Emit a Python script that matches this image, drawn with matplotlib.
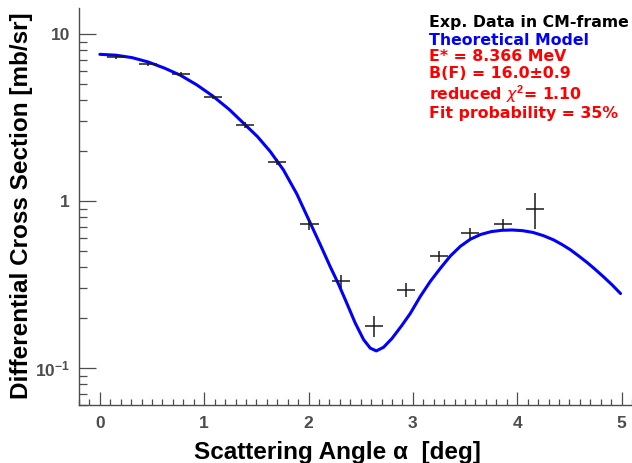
import matplotlib
matplotlib.use("Agg")
import matplotlib.pyplot as plt
from matplotlib.ticker import MultipleLocator, LogLocator, FixedLocator, FixedFormatter, NullFormatter

# ---- data ----
angle = [0.154, 0.464, 0.774, 1.082, 1.392, 1.696, 2.009, 2.313, 2.627, 2.934, 3.247, 3.551, 3.861, 4.168]
angle_err = [0.087] * 14
xsec = [7.24, 6.64, 5.78, 4.19, 2.85, 1.71, 0.728, 0.331, 0.179, 0.294, 0.467, 0.640, 0.725, 0.896]
xsec_err = [0.20, 0.19, 0.17, 0.12, 0.10, 0.07, 0.055, 0.03, 0.025, 0.027, 0.035, 0.05, 0.055, 0.217]

model_angle = [0.0, 0.154, 0.31, 0.464, 0.62, 0.774, 0.93, 1.082, 1.24, 1.392, 1.51, 1.632,
               1.759, 1.888, 2.009, 2.111, 2.207, 2.287, 2.368, 2.447, 2.527, 2.591, 2.649,
               2.719, 2.799, 2.895, 2.975, 3.071, 3.167, 3.263, 3.359, 3.455, 3.551, 3.65,
               3.75, 3.85, 3.95, 4.05, 4.15, 4.25, 4.35, 4.43, 4.51, 4.59, 4.67, 4.75, 4.83,
               4.91, 4.99]
model_xsec = [7.55, 7.46, 7.21, 6.79, 6.24, 5.65, 4.95, 4.25, 3.53, 2.86, 2.43, 1.98,
              1.535, 1.10, 0.755, 0.55, 0.405, 0.318, 0.243, 0.186, 0.148, 0.1315, 0.1265,
              0.133, 0.150, 0.180, 0.212, 0.268, 0.330, 0.395, 0.468, 0.535, 0.590, 0.630,
              0.655, 0.667, 0.670, 0.664, 0.648, 0.620, 0.584, 0.548, 0.510, 0.468, 0.428,
              0.388, 0.350, 0.314, 0.279]

ytick_vals = [0.1, 1, 10]
ytick_labels = [r'$\mathbf{10^{-1}}$', '1', '10']
xtick_vals = [0, 1, 2, 3, 4, 5]

legend_lines = [
    ("Exp. Data in CM-frame", "black"),
    ("Theoretical Model", "blue"),
    ("E* = 8.366 MeV", "red"),
    ("B(F) = 16.0\u00b10.9", "red"),
    (r"reduced $\chi^{\mathbf{2}}$= 1.10", "red"),
    ("Fit probability = 35%", "red"),
]

# ---- figure ----
W, H = 632, 463
plt.rcParams['mathtext.fontset'] = 'custom'
plt.rcParams['mathtext.bf'] = 'Liberation Sans:bold'
plt.rcParams['mathtext.rm'] = 'Liberation Sans:bold'
plt.rcParams['mathtext.it'] = 'DejaVu Sans:italic'

fig = plt.figure(figsize=(W / 100, H / 100), dpi=100)
ax = fig.add_axes([79 / W, (H - 405) / H, 1 - 79 / W, (405 - 8) / H])

gray = '#4d4d4d'
ax.plot(model_angle, model_xsec, color='#0000ff', lw=2.2, solid_capstyle='round',
        solid_joinstyle='round', zorder=3)
ax.errorbar(angle, xsec, xerr=angle_err, yerr=xsec_err, fmt='none',
            ecolor='#1a1a1a', elinewidth=1.1, capsize=0, zorder=4)

ax.set_yscale('log')
ax.set_xlim(-0.2, 5.1)
ax.set_ylim(0.06, 14.3)

for s in ['top', 'right']:
    ax.spines[s].set_visible(False)
for s in ['left', 'bottom']:
    ax.spines[s].set_color(gray)
    ax.spines[s].set_linewidth(1.0)

ax.xaxis.set_major_locator(FixedLocator(xtick_vals))
ax.xaxis.set_minor_locator(MultipleLocator(0.1))
ax.yaxis.set_major_locator(FixedLocator(ytick_vals))
ax.yaxis.set_major_formatter(FixedFormatter(ytick_labels))
ax.yaxis.set_minor_locator(LogLocator(base=10, subs=[2, 3, 4, 5, 6, 7, 8, 9], numticks=20))
ax.yaxis.set_minor_formatter(NullFormatter())

tick_font = dict(family='Liberation Sans', weight='bold', size=12.5)
ax.tick_params(axis='x', which='major', direction='in', length=9.4, width=0.9, color=gray,
               pad=8, labelcolor=gray)
ax.tick_params(axis='x', which='minor', direction='in', length=4.3, width=0.9, color=gray)
ax.tick_params(axis='y', which='major', direction='in', length=12.2, width=0.9, color=gray,
               pad=6.5, labelcolor=gray)
ax.tick_params(axis='y', which='minor', direction='in', length=5.8, width=0.9, color=gray)
for lab in ax.get_xticklabels() + ax.get_yticklabels():
    lab.set_fontproperties(tick_font)
    lab.set_fontsize(12.5)

# axis titles
fig.text(337.5 / W, 1 - 459 / H, "Scattering Angle \u03b1  [deg]", family='Liberation Sans',
         weight='bold', size=17.5, ha='center', va='baseline', color='black')
fig.text(28 / W, 1 - 206 / H, "Differential Cross Section [mb/sr]", family='Liberation Sans',
         weight='bold', size=17.5, ha='center', va='baseline', rotation=90,
         rotation_mode='anchor', color='black')

# legend-like text block
baselines = [27.3, 44.7, 61, 77.7, 100, 118.3]
for (txt, col), b in zip(legend_lines, baselines):
    fig.text(429 / W, 1 - b / H, txt, family='DejaVu Sans', weight='bold', size=11.3,
             color=col, ha='left', va='baseline')

fig.savefig('out.png', dpi=100)
